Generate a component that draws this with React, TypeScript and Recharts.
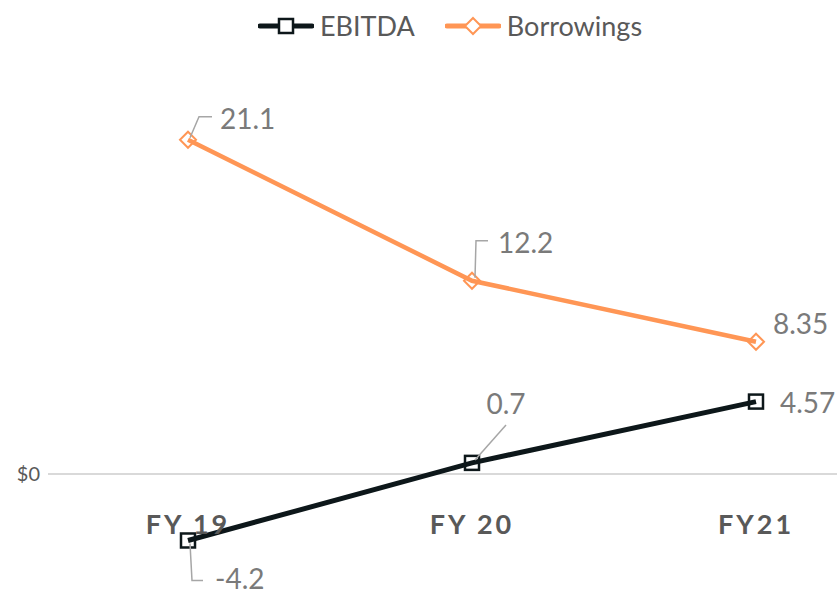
import React from "react";
import {
  LineChart,
  Line,
  XAxis,
  YAxis,
  ReferenceLine,
  LabelList,
} from "recharts";

const CATEGORIES = ["FY 19", "FY 20", "FY21"];
const EBITDA = [-4.2, 0.7, 4.57];
const BORROWINGS = [21.1, 12.2, 8.35];
const Y_TICKS = [0];

const data = CATEGORIES.map((name, i) => ({
  name,
  ebitda: EBITDA[i],
  borrowings: BORROWINGS[i],
}));

const WIDTH = 837;
const HEIGHT = 596;
const TOP = 78;
const BOTTOM = 27;
const Y_MIN = -6;
const Y_MAX = 25;
const PLOT_H = HEIGHT - TOP - BOTTOM;
// distance from the plot bottom up to the zero line, so the category labels sit under it
const ZERO_FROM_BOTTOM = (PLOT_H * (0 - Y_MIN)) / (Y_MAX - Y_MIN);

const FONT = "Lato, 'Open Sans', sans-serif";
const BLACK = "#0d171a";
const ORANGE = "#ff9655";
const LABEL_GRAY = "#7a7a7a";
const TEXT_GRAY = "#595959";

type LabelSpot = { tx: number; ty: number; anchor?: "start" | "middle"; leader?: number[][] };

// where each data label goes relative to its point, plus the callout leader if any
const BORROW_LABELS: LabelSpot[] = [
  { tx: 32, ty: -22, leader: [[2, -2], [11, -23], [24, -23]] },
  { tx: 26, ty: -39, leader: [[3, -3], [4, -40], [16, -40]] },
  { tx: 17, ty: -19 },
];
const EBITDA_LABELS: LabelSpot[] = [
  { tx: 27, ty: 38, leader: [[2, 3], [4, 40], [15, 40]] },
  { tx: 34, ty: -60, anchor: "middle", leader: [[3, -3], [34, -38]] },
  { tx: 24, ty: 0 },
];

function makeLabel(spots: LabelSpot[]) {
  return (props: any) => {
    const { x, y, value, index } = props;
    const s = spots[index];
    if (!s) return null;
    return (
      <g>
        {s.leader && (
          <polyline
            points={s.leader.map(([dx, dy]) => `${x + dx},${y + dy}`).join(" ")}
            fill="none"
            stroke="#a6a6a6"
            strokeWidth={1.5}
          />
        )}
        <text
          x={x + s.tx}
          y={y + s.ty}
          textAnchor={s.anchor || "start"}
          dominantBaseline="central"
          fontFamily={FONT}
          fontSize={28}
          fill={LABEL_GRAY}
        >
          {value}
        </text>
      </g>
    );
  };
}

function SquareDot(props: any) {
  const { cx, cy } = props;
  return <rect x={cx - 7} y={cy - 7} width={14} height={14} fill="none" stroke={BLACK} strokeWidth={2.5} />;
}

function DiamondDot(props: any) {
  const { cx, cy } = props;
  return (
    <polygon
      points={`${cx},${cy - 8} ${cx + 8},${cy} ${cx},${cy + 8} ${cx - 8},${cy}`}
      fill="none"
      stroke={ORANGE}
      strokeWidth={2}
    />
  );
}

function CategoryTick(props: any) {
  const { x, y, payload } = props;
  return (
    <text
      x={x}
      y={y - ZERO_FROM_BOTTOM + 42}
      textAnchor="middle"
      dominantBaseline="central"
      fontFamily={FONT}
      fontWeight={700}
      fontSize={27}
      letterSpacing={3}
      fill={TEXT_GRAY}
    >
      {payload.value}
    </text>
  );
}

function LegendItem({ label, color, marker }: { label: string; color: string; marker: "square" | "diamond" }) {
  return (
    <div style={{ display: "flex", alignItems: "center", gap: 6 }}>
      <svg width={56} height={20}>
        <line x1={2} y1={10} x2={54} y2={10} stroke={color} strokeWidth={5} strokeLinecap="round" />
        {marker === "square" ? (
          <rect x={21} y={3} width={14} height={14} fill="#fff" stroke={color} strokeWidth={2.5} />
        ) : (
          <polygon points="28,2 36,10 28,18 20,10" fill="#fff" stroke={color} strokeWidth={2} />
        )}
      </svg>
      <span style={{ fontFamily: FONT, fontSize: 27, color: TEXT_GRAY }}>{label}</span>
    </div>
  );
}

export default function App() {
  return (
    <div style={{ position: "relative", width: WIDTH, height: HEIGHT, background: "#fff" }}>
      <style>{`body{margin:0}`}</style>
      <div
        style={{
          position: "absolute",
          top: 9,
          left: 258,
          display: "flex",
          gap: 30,
          alignItems: "center",
          zIndex: 1,
        }}
      >
        <LegendItem label="EBITDA" color={BLACK} marker="square" />
        <LegendItem label="Borrowings" color={ORANGE} marker="diamond" />
      </div>
      <LineChart
        width={WIDTH}
        height={HEIGHT}
        data={data}
        margin={{ top: TOP, right: 0, bottom: BOTTOM - 1, left: 0 }}
      >
        <XAxis
          dataKey="name"
          height={1}
          axisLine={false}
          tickLine={false}
          padding={{ left: 140, right: 81 }}
          tick={<CategoryTick />}
          interval={0}
        />
        <YAxis
          width={48}
          domain={[Y_MIN, Y_MAX]}
          ticks={Y_TICKS}
          axisLine={false}
          tickLine={false}
          tickFormatter={(v) => `$${v}`}
          tick={{ fontFamily: FONT, fontSize: 20, fill: TEXT_GRAY }}
          tickMargin={2}
        />
        <ReferenceLine y={0} stroke="#d9d9d9" strokeWidth={2} />
        <Line
          dataKey="borrowings"
          stroke={ORANGE}
          strokeWidth={4.5}
          dot={<DiamondDot />}
          activeDot={false}
          isAnimationActive={false}
        >
          <LabelList dataKey="borrowings" content={makeLabel(BORROW_LABELS)} />
        </Line>
        <Line
          dataKey="ebitda"
          stroke={BLACK}
          strokeWidth={5}
          dot={<SquareDot />}
          activeDot={false}
          isAnimationActive={false}
        >
          <LabelList dataKey="ebitda" content={makeLabel(EBITDA_LABELS)} />
        </Line>
      </LineChart>
    </div>
  );
}
